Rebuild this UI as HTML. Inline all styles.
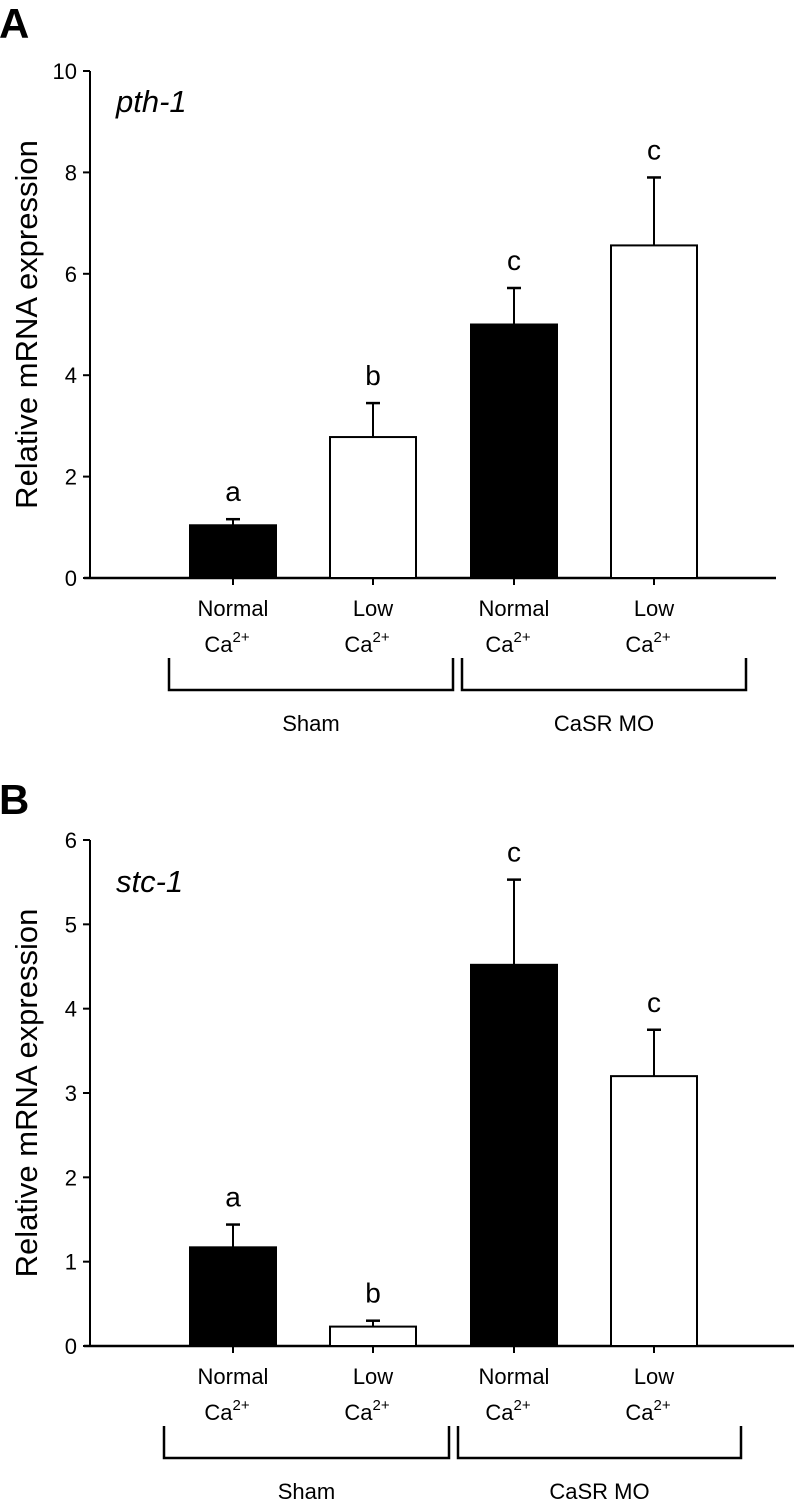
<!DOCTYPE html>
<html><head><meta charset="utf-8"><style>
html,body{margin:0;padding:0;background:#fff;}
svg{display:block;font-family:"Liberation Sans",Arial,sans-serif;}
</style></head><body>
<svg id="chart" width="798" height="1509" viewBox="0 0 798 1509"></svg>
<script>
const categories = ["Normal", "Low", "Normal", "Low"];
const groups = ["Sham", "CaSR MO"];
const pthValues = [1.04, 2.78, 5.0, 6.56];
const pthErrTop = [1.16, 3.45, 5.72, 7.9];
const pthLetters = ["a", "b", "c", "c"];
const pthTicks = [0, 2, 4, 6, 8, 10];
const stcValues = [1.17, 0.23, 4.52, 3.2];
const stcErrTop = [1.44, 0.3, 5.53, 3.75];
const stcLetters = ["a", "b", "c", "c"];
const stcTicks = [0, 1, 2, 3, 4, 5, 6];
const fills = ["#000", "#fff", "#000", "#fff"];

const NS = "http://www.w3.org/2000/svg";
const svg = document.getElementById("chart");
function mk(tag, attrs, parent, text) {
  const e = document.createElementNS(NS, tag);
  for (const k in attrs) e.setAttribute(k, attrs[k]);
  if (text !== undefined) e.textContent = text;
  (parent || svg).appendChild(e);
  return e;
}

function panel(cfg) {
  const g = mk("g", {});
  
  
  const x0 = 90, y0 = cfg.y0, yTop = cfg.yTop, maxV = cfg.ticks[cfg.ticks.length - 1];
  const yS = v => y0 - (y0 - yTop) * v / maxV;
  const centers = [233, 373, 514, 654];
  const xS = i => centers[i];
  const bw = 86;

  const pl = mk("text", {x: -1, y: cfg.labelY, "font-size": 42, "font-weight": "bold"}, g, cfg.letter);
  
  
  const gt = mk("text", {x: 116, y: cfg.geneY, "font-size": 31, "font-style": "italic"}, g, cfg.gene);
  
  
  const yt = mk("text", {x: 0, y: 0, "font-size": 31, "text-anchor": "middle",
    transform: `translate(37,${(y0 + yTop) / 2}) rotate(-90)`}, g, "Relative mRNA expression");
  
  

  const ya = mk("line", {x1: x0, y1: yTop, x2: x0, y2: y0 + 1, stroke: "#000", "stroke-width": 2}, g);
  
  
  const xa = mk("line", {x1: x0 - 6, y1: y0, x2: cfg.xEnd, y2: y0, stroke: "#000", "stroke-width": 2.5}, g);
  
  
  cfg.ticks.forEach(t => {
    const y = yS(t);
    const tl = mk("line", {x1: x0 - 7, y1: y, x2: x0, y2: y, stroke: "#000", "stroke-width": 2}, g);
    
    
    const tx = mk("text", {x: x0 - 13, y: y + 8, "font-size": 22, "text-anchor": "end"}, g, String(t));
    
    
  });

  cfg.values.forEach((v, i) => {
    const cx = xS(i);
    const top = yS(v), et = yS(cfg.err[i]);
    const el = mk("line", {x1: cx, y1: top, x2: cx, y2: et, stroke: "#000", "stroke-width": 2}, g);
    
    
    const cap = mk("line", {x1: cx - 7, y1: et, x2: cx + 7, y2: et, stroke: "#000", "stroke-width": 2.5}, g);
    
    
    const r = mk("rect", {x: cx - bw / 2, y: top, width: bw, height: y0 - top, fill: fills[i], stroke: "#000", "stroke-width": 2}, g);
    
    
    const lt = mk("text", {x: cx, y: et - 18, "font-size": 28, "text-anchor": "middle"}, g, cfg.letters[i]);
    
    
    const xt = mk("line", {x1: cx, y1: y0, x2: cx, y2: y0 + 7, stroke: "#000", "stroke-width": 2}, g);
    
    
    const c1 = mk("text", {x: cx, y: y0 + 38, "font-size": 22, "text-anchor": "middle"}, g, categories[i]);
    
    
    const c2 = mk("text", {x: cx - 6, y: y0 + 74, "font-size": 22, "text-anchor": "middle"}, g);
    
    
    c2.appendChild(document.createTextNode("Ca"));
    const sup = mk("tspan", {"font-size": 15, dy: -10}, c2, "2+");
    
    
  });

  cfg.brackets.forEach((b, j) => {
    const p = mk("path", {d: `M${b[0]},${y0 + 80} V${y0 + 112} H${b[1]} V${y0 + 80}`, fill: "none", stroke: "#000", "stroke-width": 2.5}, g);
    
    
    const gl = mk("text", {x: (b[0] + b[1]) / 2, y: y0 + 153, "font-size": 22, "text-anchor": "middle"}, g, groups[j]);
    
    
  });
}

panel({name: "panel-a-pth1", letter: "A", gene: "pth-1", labelY: 38, geneY: 112,
  y0: 578, yTop: 71, ticks: pthTicks, values: pthValues, err: pthErrTop, letters: pthLetters,
  xEnd: 776, brackets: [[169, 453], [462, 746]]});
panel({name: "panel-b-stc1", letter: "B", gene: "stc-1", labelY: 814, geneY: 892,
  y0: 1346, yTop: 840, ticks: stcTicks, values: stcValues, err: stcErrTop, letters: stcLetters,
  xEnd: 794, brackets: [[164, 449], [458, 741]]});
</script>
</body></html>
